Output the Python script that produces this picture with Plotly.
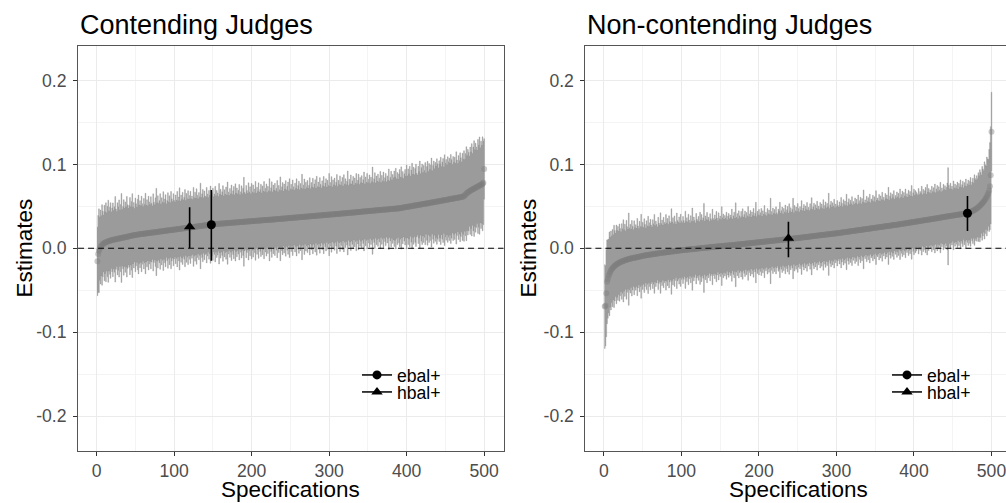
import plotly.graph_objects as go

specs = list(range(1, 501))

est_contending = [
-.0155,-.0068,-.0030,-.0005,.0015,.0030,.0040,.0050,.0057,.0063,
.0068,.0072,.0076,.0080,.0084,.0087,.0090,.0093,.0096,.0099,
.0101,.0103,.0105,.0107,.0109,.0111,.0113,.0115,.0117,.0119,
.0121,.0123,.0125,.0127,.0129,.0131,.0133,.0135,.0137,.0139,
.0141,.0143,.0145,.0147,.0149,.0151,.0153,.0155,.0157,.0159,
.0161,.0162,.0164,.0165,.0166,.0167,.0169,.0170,.0171,.0172,
.0174,.0175,.0176,.0177,.0179,.0180,.0181,.0182,.0184,.0185,
.0186,.0187,.0189,.0190,.0191,.0192,.0194,.0195,.0196,.0197,
.0199,.0200,.0201,.0202,.0204,.0205,.0206,.0207,.0209,.0210,
.0211,.0212,.0214,.0215,.0216,.0217,.0219,.0220,.0221,.0222,
.0224,.0225,.0226,.0228,.0229,.0230,.0231,.0233,.0234,.0235,
.0237,.0238,.0239,.0240,.0242,.0243,.0244,.0246,.0247,.0248,
.0249,.0251,.0252,.0253,.0255,.0256,.0257,.0258,.0260,.0261,
.0262,.0264,.0265,.0266,.0267,.0269,.0270,.0271,.0273,.0274,
.0275,.0276,.0278,.0279,.0280,.0281,.0282,.0283,.0284,.0286,
.0287,.0287,.0288,.0289,.0290,.0290,.0291,.0292,.0293,.0293,
.0294,.0295,.0296,.0296,.0297,.0298,.0299,.0299,.0300,.0301,
.0302,.0302,.0303,.0304,.0305,.0305,.0306,.0307,.0308,.0308,
.0309,.0310,.0311,.0311,.0312,.0313,.0314,.0314,.0315,.0316,
.0317,.0317,.0318,.0319,.0320,.0320,.0321,.0322,.0323,.0323,
.0324,.0325,.0325,.0326,.0327,.0328,.0328,.0329,.0330,.0331,
.0331,.0332,.0333,.0333,.0334,.0335,.0336,.0336,.0337,.0337,
.0338,.0339,.0340,.0340,.0341,.0342,.0343,.0344,.0344,.0345,
.0346,.0347,.0348,.0348,.0349,.0350,.0351,.0352,.0352,.0353,
.0354,.0355,.0356,.0356,.0357,.0358,.0359,.0360,.0360,.0361,
.0362,.0363,.0364,.0364,.0365,.0366,.0367,.0368,.0368,.0369,
.0370,.0371,.0372,.0372,.0373,.0374,.0375,.0376,.0376,.0377,
.0378,.0379,.0380,.0380,.0381,.0382,.0383,.0384,.0384,.0385,
.0386,.0387,.0388,.0388,.0389,.0390,.0391,.0392,.0392,.0393,
.0394,.0395,.0396,.0396,.0397,.0398,.0399,.0400,.0400,.0401,
.0402,.0403,.0404,.0404,.0405,.0406,.0407,.0408,.0408,.0409,
.0410,.0411,.0412,.0413,.0413,.0414,.0415,.0416,.0417,.0418,
.0418,.0419,.0420,.0421,.0422,.0423,.0423,.0424,.0425,.0426,
.0427,.0428,.0428,.0429,.0430,.0431,.0432,.0433,.0433,.0434,
.0435,.0436,.0437,.0438,.0438,.0439,.0440,.0441,.0442,.0443,
.0443,.0444,.0445,.0446,.0447,.0448,.0448,.0449,.0450,.0451,
.0452,.0453,.0453,.0454,.0455,.0456,.0457,.0458,.0458,.0459,
.0460,.0461,.0462,.0463,.0463,.0464,.0465,.0466,.0467,.0468,
.0468,.0469,.0470,.0471,.0472,.0473,.0473,.0474,.0475,.0476,
.0478,.0479,.0481,.0483,.0484,.0486,.0488,.0489,.0491,.0492,
.0494,.0496,.0497,.0499,.0501,.0502,.0504,.0506,.0507,.0509,
.0510,.0512,.0514,.0515,.0517,.0519,.0520,.0522,.0524,.0525,
.0527,.0528,.0530,.0532,.0533,.0535,.0537,.0538,.0540,.0542,
.0543,.0545,.0547,.0548,.0550,.0552,.0553,.0555,.0557,.0558,
.0560,.0562,.0564,.0565,.0567,.0569,.0570,.0572,.0574,.0576,
.0577,.0579,.0581,.0582,.0584,.0586,.0588,.0589,.0591,.0593,
.0594,.0596,.0598,.0600,.0601,.0603,.0605,.0606,.0608,.0610,
.0611,.0613,.0615,.0623,.0631,.0640,.0650,.0660,.0668,.0675,
.0681,.0686,.0692,.0697,.0702,.0707,.0712,.0717,.0722,.0727,
.0732,.0737,.0742,.0747,.0752,.0757,.0762,.0768,.0780,.0945,
]

halfwidth_contending = [
.041,.046,.050,.038,.044,.036,.048,.039,.034,.045,.037,.047,.035,.042,.049,.036,.040,.045,.034,.038,
.044,.035,.039,.051,.036,.033,.043,.038,.046,.034,.040,.053,.034,.037,.045,.035,.042,.036,.048,.038,
.034,.037,.046,.035,.041,.050,.034,.039,.032,.044,.037,.033,.042,.047,.035,.040,.034,.045,.036,.033,
.042,.035,.048,.034,.040,.033,.044,.037,.034,.043,.035,.032,.046,.036,.033,.041,.052,.035,.043,.034,
.037,.045,.033,.040,.035,.047,.034,.038,.043,.032,.036,.045,.034,.041,.033,.046,.037,.034,.043,.035,
.033,.041,.035,.045,.034,.038,.049,.033,.040,.035,.043,.034,.037,.046,.033,.041,.035,.044,.034,.038,
.043,.034,.037,.033,.047,.035,.041,.034,.045,.037,.033,.040,.035,.051,.034,.038,.043,.033,.041,.035,
.034,.045,.037,.033,.041,.035,.046,.034,.038,.043,.033,.036,.045,.034,.040,.037,.033,.048,.035,.041,
.034,.038,.045,.033,.040,.035,.043,.034,.049,.037,.033,.041,.035,.045,.034,.038,.043,.033,.046,.035,
.041,.034,.038,.045,.033,.036,.043,.034,.040,.053,.035,.033,.043,.037,.034,.046,.035,.041,.033,.045,
.035,.043,.034,.038,.047,.033,.040,.035,.045,.034,.037,.043,.033,.041,.035,.046,.034,.038,.043,.033,
.040,.035,.049,.034,.038,.045,.033,.041,.035,.043,.034,.037,.046,.033,.040,.035,.050,.034,.038,.043,
.033,.041,.035,.045,.034,.038,.043,.033,.047,.035,.040,.034,.045,.037,.033,.041,.035,.046,.034,.038,
.043,.033,.040,.035,.051,.034,.038,.045,.033,.041,.035,.043,.034,.037,.046,.033,.040,.035,.045,.034,
.038,.043,.033,.047,.035,.040,.034,.045,.037,.033,.041,.035,.046,.034,.038,.043,.033,.041,.035,.049,
.034,.038,.045,.033,.041,.035,.043,.034,.038,.047,.033,.040,.035,.045,.034,.038,.043,.033,.046,.035,
.041,.034,.038,.050,.033,.040,.035,.045,.034,.038,.043,.033,.041,.035,.046,.034,.038,.045,.033,.041,
.035,.043,.034,.038,.047,.033,.041,.035,.045,.034,.038,.043,.033,.040,.035,.052,.034,.038,.045,.033,
.041,.035,.043,.034,.038,.046,.033,.041,.035,.045,.034,.038,.043,.033,.040,.035,.048,.034,.038,.045,
.035,.041,.037,.045,.038,.048,.036,.043,.035,.041,.046,.037,.049,.036,.043,.035,.040,.045,.037,.050,
.037,.045,.039,.048,.036,.043,.051,.038,.046,.037,.044,.049,.038,.036,.046,.040,.052,.037,.044,.048,
.038,.046,.040,.049,.037,.044,.050,.038,.047,.040,.045,.053,.038,.044,.049,.040,.047,.043,.051,.045,
.040,.048,.044,.052,.041,.046,.050,.040,.054,.044,.048,.042,.051,.045,.049,.043,.053,.047,.041,.050,
.043,.049,.042,.055,.045,.041,.050,.044,.053,.047,.042,.052,.045,.054,.043,.049,.056,.045,.051,.047,
.042,.052,.046,.055,.043,.050,.057,.046,.053,.048,.044,.056,.049,.058,.045,.052,.047,.056,.050,.036,
]

est_noncontending = [
-.0695,-.0685,-.0535,-.0400,-.0365,-.0330,-.0305,-.0285,-.0265,-.0250,
-.0237,-.0226,-.0216,-.0207,-.0199,-.0192,-.0186,-.0180,-.0175,-.0170,
-.0165,-.0161,-.0157,-.0153,-.0150,-.0146,-.0143,-.0140,-.0137,-.0134,
-.0131,-.0129,-.0126,-.0124,-.0121,-.0119,-.0117,-.0115,-.0113,-.0111,
-.0109,-.0107,-.0105,-.0103,-.0101,-.0099,-.0097,-.0095,-.0093,-.0091,
-.0089,-.0087,-.0086,-.0084,-.0082,-.0081,-.0079,-.0078,-.0076,-.0075,
-.0073,-.0072,-.0070,-.0069,-.0067,-.0066,-.0065,-.0063,-.0062,-.0061,
-.0059,-.0058,-.0057,-.0055,-.0054,-.0053,-.0051,-.0050,-.0049,-.0048,
-.0046,-.0045,-.0044,-.0043,-.0041,-.0040,-.0039,-.0038,-.0036,-.0035,
-.0034,-.0033,-.0031,-.0030,-.0029,-.0028,-.0027,-.0025,-.0024,-.0023,
-.0022,-.0021,-.0020,-.0019,-.0018,-.0017,-.0016,-.0015,-.0014,-.0013,
-.0012,-.0012,-.0011,-.0010,-.0009,-.0008,-.0007,-.0006,-.0005,-.0004,
-.0003,-.0002,-.0001,.0000,.0001,.0002,.0003,.0003,.0004,.0005,
.0006,.0007,.0008,.0009,.0010,.0011,.0012,.0013,.0014,.0015,
.0016,.0017,.0018,.0019,.0020,.0021,.0022,.0023,.0024,.0025,
.0025,.0026,.0027,.0028,.0029,.0030,.0031,.0031,.0032,.0033,
.0034,.0035,.0036,.0036,.0037,.0038,.0039,.0040,.0041,.0042,
.0043,.0044,.0045,.0046,.0047,.0048,.0049,.0050,.0051,.0052,
.0053,.0054,.0055,.0056,.0057,.0058,.0059,.0060,.0061,.0062,
.0063,.0064,.0065,.0066,.0067,.0068,.0069,.0070,.0071,.0072,
.0073,.0074,.0075,.0076,.0077,.0078,.0079,.0080,.0081,.0082,
.0083,.0084,.0085,.0086,.0087,.0088,.0089,.0090,.0091,.0092,
.0093,.0094,.0095,.0096,.0097,.0098,.0099,.0100,.0101,.0102,
.0103,.0104,.0105,.0106,.0107,.0108,.0109,.0110,.0111,.0112,
.0113,.0114,.0115,.0116,.0117,.0119,.0120,.0121,.0122,.0123,
.0124,.0125,.0126,.0127,.0128,.0130,.0131,.0132,.0133,.0134,
.0135,.0136,.0137,.0138,.0139,.0141,.0142,.0143,.0144,.0145,
.0146,.0147,.0148,.0149,.0150,.0152,.0153,.0154,.0155,.0156,
.0157,.0158,.0159,.0160,.0161,.0163,.0164,.0165,.0166,.0167,
.0168,.0169,.0170,.0171,.0172,.0174,.0175,.0176,.0177,.0178,
.0179,.0181,.0182,.0183,.0185,.0186,.0187,.0189,.0190,.0191,
.0193,.0194,.0195,.0197,.0198,.0199,.0201,.0202,.0203,.0205,
.0206,.0207,.0209,.0210,.0211,.0213,.0214,.0215,.0217,.0218,
.0219,.0221,.0222,.0223,.0225,.0226,.0227,.0229,.0230,.0231,
.0233,.0234,.0235,.0237,.0238,.0239,.0241,.0242,.0243,.0245,
.0246,.0247,.0249,.0250,.0251,.0253,.0254,.0255,.0257,.0258,
.0259,.0261,.0262,.0263,.0265,.0266,.0267,.0269,.0270,.0271,
.0273,.0274,.0275,.0277,.0278,.0279,.0281,.0282,.0283,.0285,
.0286,.0287,.0289,.0290,.0291,.0293,.0294,.0295,.0297,.0298,
.0300,.0301,.0303,.0304,.0306,.0307,.0309,.0310,.0312,.0314,
.0315,.0317,.0318,.0320,.0321,.0323,.0324,.0326,.0327,.0329,
.0330,.0332,.0333,.0335,.0336,.0338,.0340,.0341,.0343,.0344,
.0346,.0347,.0349,.0350,.0352,.0353,.0355,.0356,.0358,.0359,
.0361,.0362,.0364,.0366,.0367,.0369,.0370,.0372,.0373,.0375,
.0376,.0378,.0379,.0381,.0382,.0384,.0385,.0387,.0389,.0390,
.0392,.0393,.0395,.0396,.0398,.0399,.0401,.0402,.0404,.0405,
.0407,.0408,.0410,.0411,.0413,.0414,.0416,.0418,.0420,.0423,
.0426,.0429,.0433,.0437,.0441,.0446,.0451,.0456,.0462,.0468,
.0475,.0482,.0490,.0498,.0507,.0516,.0526,.0536,.0546,.0557,
.0570,.0585,.0600,.0618,.0638,.0660,.0690,.0740,.0870,.1390,
]

halfwidth_noncontending = [
.050,.048,.052,.050,.047,.044,.050,.042,.047,.040,.046,.039,.049,.042,.038,.047,.040,.044,.038,.046,
.040,.036,.045,.039,.049,.037,.043,.035,.047,.039,.036,.055,.037,.041,.035,.045,.038,.034,.044,.036,
.039,.035,.046,.037,.034,.042,.036,.050,.035,.040,.034,.044,.037,.033,.041,.035,.046,.034,.038,.042,
.035,.033,.041,.036,.047,.034,.039,.035,.032,.043,.036,.034,.048,.035,.039,.033,.042,.036,.034,.045,
.035,.040,.033,.043,.036,.034,.051,.035,.040,.033,.042,.035,.032,.045,.036,.034,.040,.033,.043,.035,
.033,.040,.035,.032,.046,.034,.038,.033,.042,.035,.032,.040,.034,.049,.033,.038,.034,.031,.042,.035,
.033,.038,.032,.043,.034,.040,.033,.036,.053,.032,.038,.034,.042,.033,.036,.031,.040,.034,.032,.045,
.034,.032,.038,.033,.042,.034,.031,.040,.033,.036,.032,.047,.034,.038,.032,.036,.033,.040,.031,.035,
.038,.032,.036,.033,.043,.031,.035,.039,.032,.050,.033,.037,.031,.040,.034,.032,.039,.033,.042,.032,
.035,.039,.031,.037,.033,.044,.032,.035,.039,.031,.037,.033,.041,.032,.035,.048,.031,.037,.033,.039,
.032,.035,.040,.031,.037,.033,.043,.032,.035,.031,.039,.033,.037,.032,.051,.035,.031,.039,.033,.037,
.032,.040,.033,.031,.037,.035,.045,.032,.035,.039,.031,.037,.033,.041,.032,.035,.039,.031,.042,.033,
.037,.032,.035,.048,.031,.039,.033,.037,.032,.041,.035,.031,.037,.033,.044,.032,.035,.039,.031,.037,
.033,.041,.032,.035,.031,.039,.033,.046,.032,.035,.039,.031,.037,.033,.041,.032,.035,.031,.039,.033,
.037,.032,.042,.031,.035,.039,.032,.037,.033,.049,.031,.035,.039,.032,.037,.033,.041,.031,.035,.032,
.039,.033,.031,.037,.032,.042,.035,.031,.039,.033,.037,.032,.045,.031,.035,.039,.032,.037,.033,.041,
.031,.035,.032,.039,.033,.037,.031,.042,.032,.035,.039,.031,.037,.033,.047,.032,.035,.031,.039,.033,
.037,.032,.041,.031,.035,.033,.039,.032,.037,.031,.044,.033,.035,.032,.039,.031,.037,.033,.041,.032,
.035,.031,.039,.033,.037,.032,.046,.031,.035,.039,.032,.037,.033,.041,.031,.035,.032,.039,.033,.037,
.031,.042,.032,.035,.039,.031,.037,.033,.041,.032,.035,.031,.039,.033,.037,.032,.044,.031,.035,.039,
.032,.037,.035,.033,.031,.039,.032,.035,.033,.041,.031,.037,.032,.035,.039,.031,.042,.033,.037,.032,
.035,.031,.039,.033,.037,.032,.041,.031,.035,.039,.032,.037,.033,.042,.031,.035,.032,.039,.033,.037,
.032,.035,.040,.058,.037,.033,.039,.032,.035,.031,.041,.033,.037,.032,.035,.039,.031,.037,.033,.041,
.032,.035,.039,.031,.037,.033,.041,.032,.035,.039,.033,.037,.041,.032,.035,.039,.033,.042,.037,.035,
.039,.035,.041,.037,.043,.039,.035,.044,.040,.037,.046,.041,.038,.047,.043,.040,.049,.052,.058,.047,
]

# highlighted specifications: [ebal+, hbal+]
methods = ["ebal+", "hbal+"]
hl_contending_x = [148, 120]
hl_contending_est = [0.0280, 0.0258]
hl_contending_lo = [-0.0148, 0.0003]
hl_contending_hi = [0.0694, 0.0490]
hl_noncontending_x = [469, 238]
hl_noncontending_est = [0.0417, 0.0119]
hl_noncontending_lo = [0.0206, -0.0107]
hl_noncontending_hi = [0.0623, 0.0317]

panel_titles = ["Contending Judges", "Non-contending Judges"]
x_title = "Specifications"
y_title = "Estimates"
x_tickvals = [0, 100, 200, 300, 400, 500]
y_tickvals = [-0.2, -0.1, 0.0, 0.1, 0.2]
y_ticktext = ["-0.2", "-0.1", "0.0", "0.1", "0.2"]

assert len(est_contending) == 500, len(est_contending)
assert len(halfwidth_contending) == 500, len(halfwidth_contending)
assert len(est_noncontending) == 500, len(est_noncontending)
assert len(halfwidth_noncontending) == 500, len(halfwidth_noncontending)

FONT = "Liberation Sans, Arial, Helvetica, sans-serif"
BAND = "#9b9b9b"
PTS = "rgba(127,127,127,0.42)"

fig = go.Figure()

panels = [
    ("x", "y", est_contending, halfwidth_contending,
     hl_contending_x, hl_contending_est, hl_contending_lo, hl_contending_hi, ["legend", "legend2"]),
    ("x2", "y2", est_noncontending, halfwidth_noncontending,
     hl_noncontending_x, hl_noncontending_est, hl_noncontending_lo, hl_noncontending_hi, ["legend3", "legend4"]),
]
symbols = ["circle", "triangle-up"]
BAR_HALF = 0.5  # each spec's interval occupies one x unit

for xa, ya, est, hw, hx, he, hlo, hhi, legs in panels:
    # jagged band: upper edges left->right, lower edges right->left
    px, py = [], []
    for s, e, h in zip(specs, est, hw):
        px += [s - BAR_HALF, s + BAR_HALF]
        py += [e + h, e + h]
    for s, e, h in zip(reversed(specs), reversed(est), reversed(hw)):
        px += [s + BAR_HALF, s - BAR_HALF]
        py += [e - h, e - h]
    fig.add_trace(go.Scatter(x=px, y=py, mode="lines", fill="toself", fillcolor=BAND,
                             xaxis=xa, yaxis=ya, line=dict(color=BAND, width=0.4),
                             showlegend=False, hoverinfo="skip"))
    fig.add_trace(go.Scatter(x=specs, y=est, mode="markers", xaxis=xa, yaxis=ya,
                             marker=dict(color=PTS, size=6, line=dict(width=0)),
                             showlegend=False))
    for i, m in enumerate(methods):
        fig.add_trace(go.Scatter(
            x=[hx[i]], y=[he[i]], mode="lines+markers", name=m, xaxis=xa, yaxis=ya,
            legend=legs[i],
            marker=dict(color="black", size=9 if symbols[i] == "circle" else 10,
                        symbol=symbols[i]),
            line=dict(color="black", width=1.5),
            error_y=dict(type="data", symmetric=False,
                         array=[hhi[i] - he[i]], arrayminus=[he[i] - hlo[i]],
                         color="black", thickness=1.6, width=0),
        ))

axis_common = dict(
    showgrid=True, gridcolor="#ebebeb", gridwidth=1.1, zeroline=False,
    ticks="outside", ticklen=4, tickcolor="#333333", tickwidth=1,
    tickfont=dict(family=FONT, size=17.6, color="#4d4d4d"),
    linecolor="#555555", linewidth=1, showline=True, ticklabeloverflow="allow",
)

xl = [0.0776, 0.5005]
xr = [585.4 / 1006, 1.0]
ydom = [1 - 451 / 503, 1 - 46 / 503]
yrange = [-0.2416, 0.2411]

legend_style = dict(xanchor="left", yanchor="middle", bgcolor="rgba(0,0,0,0)",
                    font=dict(family=FONT, size=17.6, color="black"), itemwidth=30)

fig.update_layout(
    width=1006, height=503,
    margin=dict(l=0, r=0, t=0, b=0),
    paper_bgcolor="white", plot_bgcolor="white",
    font=dict(family=FONT, color="black"),
    xaxis=dict(domain=xl, range=[-23.95, 524.95], tickvals=x_tickvals, anchor="y",
               mirror=True, minor=dict(dtick=50, tick0=0, showgrid=True,
                                      gridcolor="#f4f4f4", gridwidth=0.8, ticklen=0),
               **axis_common),
    yaxis=dict(domain=ydom, range=yrange, tickvals=y_tickvals, ticktext=y_ticktext,
               anchor="x", mirror=True, ticklabelstandoff=3,
               minor=dict(dtick=0.05, tick0=0, showgrid=True,
                          gridcolor="#f4f4f4", gridwidth=0.8, ticklen=0),
               **axis_common),
    xaxis2=dict(domain=xr, range=[-23.95, (1006 - 604) / 0.775], tickvals=x_tickvals,
                anchor="y2", mirror=True,
                minor=dict(dtick=50, tick0=0, showgrid=True,
                           gridcolor="#f4f4f4", gridwidth=0.8, ticklen=0),
                **axis_common),
    yaxis2=dict(domain=ydom, range=yrange, tickvals=y_tickvals, ticktext=y_ticktext,
                anchor="x2", mirror=False, ticklabelstandoff=3,
                minor=dict(dtick=0.05, tick0=0, showgrid=True,
                           gridcolor="#f4f4f4", gridwidth=0.8, ticklen=0),
                **axis_common),
    legend=dict(x=357 / 1006, y=1 - 375 / 503, **legend_style),
    legend2=dict(x=357 / 1006, y=1 - 392 / 503, **legend_style),
    legend3=dict(x=887 / 1006, y=1 - 375 / 503, **legend_style),
    legend4=dict(x=887 / 1006, y=1 - 392 / 503, **legend_style),
    showlegend=True,
)

# dashed zero lines
for xa, ya in [("x", "y"), ("x2", "y2")]:
    fig.add_shape(type="line", xref=f"{xa} domain", yref=ya, x0=0, x1=1, y0=0, y1=0,
                  line=dict(color="black", width=1.1, dash="6px,4px"), layer="above")

# titles and axis titles
ann = []
for dom, title in [(xl, panel_titles[0]), (xr, panel_titles[1])]:
    ann.append(dict(text=title, x=dom[0], y=1 - 25 / 503, xref="paper", yref="paper",
                    xanchor="left", yanchor="middle", showarrow=False,
                    font=dict(family=FONT, size=27, color="black")))
ann.append(dict(text=x_title, x=290.5 / 1006, y=1 - 489 / 503, xref="paper", yref="paper",
                xanchor="center", yanchor="middle", showarrow=False,
                font=dict(family=FONT, size=22.5, color="black")))
ann.append(dict(text=x_title, x=798 / 1006, y=1 - 489 / 503, xref="paper", yref="paper",
                xanchor="center", yanchor="middle", showarrow=False,
                font=dict(family=FONT, size=22.5, color="black")))
for xc in [24, 528]:
    ann.append(dict(text=y_title, x=xc / 1006, y=1 - 248.5 / 503, xref="paper", yref="paper",
                    xanchor="center", yanchor="middle", textangle=-90, showarrow=False,
                    font=dict(family=FONT, size=22.5, color="black")))
fig.update_layout(annotations=ann)

fig.write_html("out.html", config={"displayModeBar": False},
               post_script="document.body.style.margin='0px';document.body.style.overflow='hidden';")
